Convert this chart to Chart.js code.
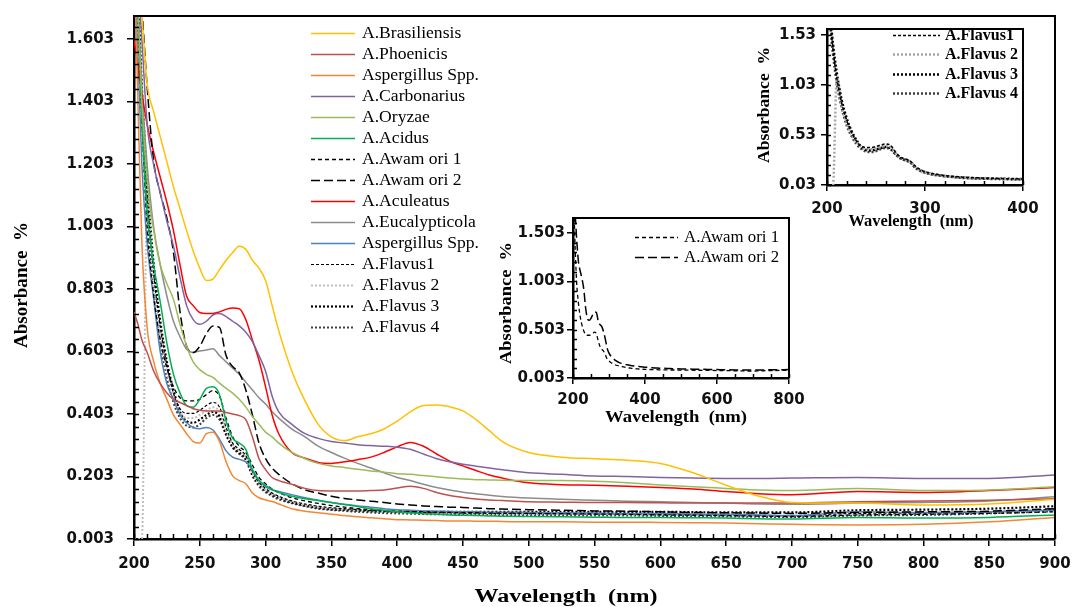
<!DOCTYPE html>
<html>
<head>
<meta charset="utf-8">
<script src="https://cdn.jsdelivr.net/npm/chart.js@4.4.0/dist/chart.umd.min.js"></script>
<style>
  body { margin: 0; background: #fff; }
  #wrap { position: relative; width: 1072px; height: 607px; }
  canvas { position: absolute; }
</style>
</head>
<body>
<div id="wrap">
  <canvas id="main" width="1072" height="607" style="left:0;top:0"></canvas>
  <canvas id="awamori" width="330" height="227" style="left:480px;top:205px"></canvas>
  <canvas id="flavus" width="305" height="240" style="left:745px;top:0"></canvas>
</div>
<script>
// wavelengths (nm) shared by every series
var wavelength = [200,203,206,210,
  215,220,225,230,235,240,245,250,255,260,265,270,275,280,285,290,295,300,
  305,310,
  320,330,340,350,360,370,380,390,400,410,420,430,440,450,460,470,480,
  500,525,550,575,600,625,650,675,700,
  750,800,850,900];

var brasiliensis = [1.95,1.85,1.68,1.46,
  1.37,1.29,1.21,1.13,1.06,0.99,0.925,0.87,0.83,0.835,0.865,0.895,0.92,0.94,0.93,0.895,0.87,0.83,
  0.75,0.67,
  0.54,0.445,0.37,0.33,0.318,0.33,0.34,0.355,0.38,0.41,0.43,0.432,0.426,0.413,0.385,0.35,0.315,
  0.28,0.265,0.26,0.255,0.245,0.215,0.175,0.14,0.12,
  0.118,0.112,0.115,0.13];
var phoenicis = [0.73,0.69,0.64,0.6,
  0.54,0.5,0.47,0.45,0.44,0.43,0.42,0.415,0.413,0.413,0.413,0.408,0.403,0.398,0.385,0.33,0.26,0.225,
  0.2,0.19,
  0.178,0.165,0.158,0.157,0.157,0.157,0.158,0.16,0.166,0.172,0.165,0.152,0.142,0.136,0.131,0.128,0.126,
  0.122,0.121,0.12,0.12,0.119,0.118,0.118,0.118,0.118,
  0.122,0.125,0.127,0.132];
var aspergillusOrange = [1.9,1.4,0.95,0.68,
  0.57,0.5,0.45,0.4,0.37,0.34,0.315,0.31,0.34,0.345,0.315,0.25,0.205,0.19,0.18,0.15,0.135,0.128,
  0.123,0.115,
  0.1,0.092,0.087,0.082,0.078,0.074,0.071,0.068,0.065,0.064,0.063,0.062,0.061,0.061,0.06,0.06,0.059,
  0.058,0.058,0.057,0.057,0.056,0.055,0.054,0.052,0.05,
  0.048,0.05,0.058,0.072];
var carbonarius = [1.95,1.8,1.6,1.33,
  1.2,1.11,1.02,0.94,0.84,0.75,0.705,0.69,0.7,0.72,0.725,0.715,0.7,0.685,0.665,0.635,0.59,0.54,
  0.46,0.41,
  0.37,0.34,0.325,0.315,0.31,0.305,0.302,0.3,0.297,0.29,0.275,0.26,0.25,0.242,0.236,0.23,0.225,
  0.215,0.21,0.205,0.203,0.2,0.198,0.197,0.197,0.198,
  0.2,0.197,0.197,0.208];
var oryzae = [1.9,1.7,1.4,1.15,
  0.99,0.88,0.82,0.77,0.69,0.62,0.57,0.545,0.53,0.52,0.502,0.485,0.47,0.45,0.425,0.395,0.37,0.345,
  0.33,0.31,
  0.28,0.26,0.245,0.237,0.232,0.226,0.221,0.217,0.212,0.21,0.206,0.202,0.198,0.195,0.193,0.192,0.191,
  0.19,0.19,0.188,0.183,0.176,0.17,0.165,0.16,0.158,
  0.165,0.158,0.16,0.17];
var acidus = [1.95,1.7,1.35,1.05,
  0.88,0.76,0.63,0.53,0.47,0.43,0.425,0.45,0.485,0.49,0.465,0.38,0.325,0.31,0.29,0.225,0.19,0.175,
  0.162,0.152,
  0.14,0.132,0.126,0.12,0.113,0.107,0.1,0.095,0.09,0.087,0.084,0.082,0.08,0.079,0.078,0.077,0.076,
  0.075,0.074,0.073,0.072,0.072,0.071,0.07,0.068,0.067,
  0.072,0.07,0.072,0.08];
var awamori1 = [1.95,1.7,1.35,1.0,
  0.78,0.64,0.55,0.49,0.455,0.445,0.445,0.45,0.465,0.478,0.46,0.39,0.33,0.3,0.28,0.24,0.2,0.18,
  0.163,0.152,
  0.135,0.125,0.117,0.11,0.105,0.1,0.097,0.094,0.092,0.091,0.09,0.089,0.088,0.087,0.087,0.086,0.086,
  0.085,0.084,0.083,0.082,0.08,0.079,0.078,0.076,0.075,
  0.08,0.082,0.085,0.09];
var awamori2 = [1.95,1.85,1.7,1.45,
  1.21,1.11,1.03,0.92,0.73,0.62,0.6,0.62,0.66,0.685,0.68,0.59,0.555,0.535,0.48,0.4,0.31,0.26,
  0.23,0.21,
  0.18,0.16,0.15,0.14,0.133,0.128,0.124,0.12,0.115,0.112,0.109,0.107,0.105,0.104,0.102,0.1,0.099,
  0.097,0.095,0.093,0.092,0.09,0.088,0.087,0.086,0.085,
  0.088,0.09,0.092,0.1];
var aculeatus = [1.6,1.52,1.43,1.33,
  1.24,1.16,1.08,0.99,0.88,0.78,0.75,0.728,0.725,0.725,0.73,0.738,0.742,0.74,0.705,0.64,0.575,0.49,
  0.4,0.34,
  0.28,0.262,0.248,0.245,0.25,0.257,0.265,0.28,0.298,0.312,0.3,0.275,0.252,0.237,0.222,0.208,0.198,
  0.183,0.177,0.175,0.172,0.168,0.163,0.155,0.148,0.145,
  0.155,0.152,0.158,0.168];
var eucalypticola = [1.9,1.7,1.45,1.2,
  1.0,0.88,0.78,0.7,0.65,0.61,0.6,0.605,0.608,0.612,0.59,0.57,0.55,0.53,0.505,0.48,0.455,0.435,
  0.41,0.39,
  0.355,0.33,0.3,0.28,0.262,0.245,0.23,0.215,0.2,0.19,0.178,0.168,0.16,0.153,0.148,0.143,0.139,
  0.134,0.13,0.127,0.124,0.122,0.12,0.118,0.115,0.114,
  0.118,0.12,0.125,0.138];
var aspergillusBlue = [1.85,1.55,1.2,0.95,
  0.77,0.6,0.5,0.45,0.4,0.375,0.36,0.356,0.36,0.352,0.322,0.285,0.265,0.258,0.25,0.225,0.19,0.17,
  0.16,0.155,
  0.145,0.135,0.127,0.12,0.114,0.109,0.105,0.1,0.097,0.095,0.093,0.092,0.091,0.09,0.09,0.089,0.089,
  0.088,0.087,0.086,0.085,0.085,0.083,0.082,0.08,0.078,
  0.09,0.088,0.09,0.095];
var flavus1 = [1.95,1.7,1.4,1.1,
  0.85,0.68,0.56,0.47,0.42,0.405,0.405,0.415,0.43,0.44,0.425,0.36,0.31,0.29,0.27,0.22,0.185,0.165,
  0.15,0.14,
  0.125,0.115,0.108,0.103,0.1,0.097,0.094,0.092,0.09,0.089,0.088,0.087,0.087,0.086,0.086,0.085,0.085,
  0.085,0.084,0.083,0.083,0.082,0.081,0.08,0.079,0.078,
  0.085,0.086,0.09,0.098];
var flavus2 = [0.003,0.003,0.003,1.1,
  0.82,0.65,0.54,0.46,0.41,0.39,0.39,0.4,0.415,0.425,0.41,0.35,0.305,0.285,0.265,0.215,0.18,0.16,
  0.147,0.137,
  0.122,0.112,0.105,0.1,0.097,0.094,0.091,0.089,0.088,0.087,0.086,0.085,0.085,0.084,0.084,0.083,0.083,
  0.083,0.082,0.082,0.081,0.08,0.079,0.078,0.077,0.076,
  0.08,0.084,0.088,0.096];
var flavus3 = [1.95,1.75,1.45,1.15,
  0.88,0.7,0.57,0.48,0.41,0.38,0.375,0.385,0.4,0.41,0.395,0.34,0.3,0.28,0.26,0.21,0.178,0.158,
  0.145,0.135,
  0.12,0.11,0.103,0.098,0.096,0.094,0.092,0.091,0.09,0.09,0.09,0.09,0.09,0.09,0.09,0.09,0.09,
  0.09,0.09,0.09,0.09,0.09,0.089,0.088,0.088,0.088,
  0.095,0.097,0.1,0.108];
var flavus4 = [1.9,1.65,1.35,1.05,
  0.8,0.63,0.52,0.44,0.39,0.365,0.36,0.37,0.39,0.4,0.385,0.335,0.295,0.275,0.255,0.205,0.172,0.153,
  0.14,0.13,
  0.117,0.108,0.1,0.096,0.093,0.09,0.088,0.086,0.085,0.084,0.083,0.082,0.082,0.081,0.081,0.08,0.08,
  0.08,0.079,0.078,0.078,0.077,0.076,0.075,0.074,0.073,
  0.078,0.08,0.085,0.092];

// tick labels
var mainXTicks = [200,250,300,350,400,450,500,550,600,650,700,750,800,850,900];
var mainYTicks = [0.003,0.203,0.403,0.603,0.803,1.003,1.203,1.403,1.603];
var awamoriXTicks = [200,400,600,800];
var awamoriYTicks = [0.003,0.503,1.003,1.503];
var flavusXTicks = [200,300,400];
var flavusYTicks = [0.03,0.53,1.03,1.53];

function pts(arr) {
  return wavelength.map(function (w, i) { return { x: w, y: arr[i] }; });
}

function line(label, arr, color, width, dash) {
  return {
    label: label,
    data: pts(arr),
    borderColor: color,
    borderWidth: width,
    borderDash: dash || [],
    pointRadius: 0,
    cubicInterpolationMode: 'monotone',
    fill: false
  };
}

var tickFont = { family: 'DejaVu Sans', weight: 'bold', size: 15 };

// text squeezed/stretched to the width it has in the picture
function drawText(ctx, t) {
  ctx.save();
  ctx.font = t.font;
  ctx.fillStyle = '#000';
  ctx.textAlign = t.align || 'center';
  ctx.textBaseline = 'middle';
  ctx.translate(t.x, t.y);
  if (t.rot) ctx.rotate(t.rot);
  var w = ctx.measureText(t.text).width;
  ctx.scale(t.width ? t.width / w : (t.sx || 1), 1);
  ctx.fillText(t.text, 0, 0);
  ctx.restore();
}

// frame, minor ticks, legend and axis titles
function deco(cfg) {
  return {
    id: 'deco',
    afterDraw: function (chart) {
      var ctx = chart.ctx, a = chart.chartArea;
      var xs = chart.scales.x, ys = chart.scales.y;
      ctx.save();
      ctx.strokeStyle = '#000';
      ctx.lineWidth = cfg.frameWidth;
      ctx.beginPath();
      ctx.moveTo(a.left, a.top);
      ctx.lineTo(a.right, a.top);
      ctx.lineTo(a.right, a.bottom);
      ctx.stroke();

      ctx.lineWidth = 1.5;
      ctx.beginPath();
      var n, i, p;
      n = Math.round((xs.max - cfg.minorX[0]) / cfg.minorX[1]);
      for (i = 0; i <= n; i++) {
        p = Math.round(xs.getPixelForValue(cfg.minorX[0] + i * cfg.minorX[1])) + 0.5;
        ctx.moveTo(p, a.bottom);
        ctx.lineTo(p, a.bottom - cfg.minorLen);
      }
      n = Math.floor((ys.max - cfg.minorY[0]) / cfg.minorY[1] + 1e-6);
      for (i = 0; i <= n; i++) {
        p = Math.round(ys.getPixelForValue(cfg.minorY[0] + i * cfg.minorY[1])) + 0.5;
        ctx.moveTo(a.left, p);
        ctx.lineTo(a.left + cfg.minorLen, p);
      }
      ctx.stroke();

      var lg = cfg.legend;
      lg.items.forEach(function (idx, k) {
        var ds = chart.data.datasets[idx];
        var y = Math.round(lg.y + k * lg.dy) + 0.5;
        ctx.strokeStyle = ds.borderColor;
        ctx.lineWidth = ds.borderWidth;
        ctx.setLineDash(ds.borderDash);
        ctx.beginPath();
        ctx.moveTo(lg.x, y);
        ctx.lineTo(lg.x + lg.len, y);
        ctx.stroke();
        ctx.setLineDash([]);
        drawText(ctx, { text: ds.label, x: lg.x + lg.len + lg.gap, y: y, font: lg.font, align: 'left', sx: lg.sx });
      });

      cfg.titles.forEach(function (t) { drawText(ctx, t); });
      ctx.restore();
    }
  };
}

function scales(o) {
  return {
    x: {
      type: 'linear', min: o.xMin, max: o.xMax,
      afterBuildTicks: function (s) { s.ticks = o.xTicks.map(function (v) { return { value: v }; }); },
      afterFit: function (s) { s.height = o.xHeight; s.paddingLeft = 0; s.paddingRight = 0; },
      ticks: { autoSkip: false, maxRotation: 0, padding: o.xPad, color: '#111', font: tickFont },
      grid: { drawOnChartArea: false, drawTicks: true, tickLength: o.tick, color: '#000', lineWidth: 1.5 },
      border: { display: true, color: '#000', width: o.axisWidth }
    },
    y: {
      type: 'linear', min: o.yMin, max: o.yMax,
      afterBuildTicks: function (s) { s.ticks = o.yTicks.map(function (v) { return { value: v }; }); },
      afterFit: function (s) { s.width = o.yWidth; s.paddingTop = 0; s.paddingBottom = 0; },
      ticks: {
        autoSkip: false, padding: o.yPad, color: '#111', font: tickFont,
        callback: function (v) { return v.toFixed(o.digits); }
      },
      grid: { drawOnChartArea: false, drawTicks: true, tickLength: o.tick, color: '#000', lineWidth: 1.5 },
      border: { display: true, color: '#000', width: o.axisWidth }
    }
  };
}

var serif = '"Liberation Serif", "Times New Roman", serif';

// main chart
new Chart(document.getElementById('main'), {
  type: 'line',
  data: {
    datasets: [
      line('A.Brasiliensis', brasiliensis, '#FFC000', 1.5),
      line('A.Phoenicis', phoenicis, '#C0504D', 1.5),
      line('Aspergillus Spp.', aspergillusOrange, '#F58634', 1.5),
      line('A.Carbonarius', carbonarius, '#8064A2', 1.5),
      line('A.Oryzae', oryzae, '#9BBB59', 1.5),
      line('A.Acidus', acidus, '#00B050', 1.5),
      line('A.Awam ori 1', awamori1, '#000', 1.3, [4, 3]),
      line('A.Awam ori 2', awamori2, '#000', 1.5, [9, 4]),
      line('A.Aculeatus', aculeatus, '#FF0000', 1.5),
      line('A.Eucalypticola', eucalypticola, '#8C8C8C', 1.5),
      line('Aspergillus Spp.', aspergillusBlue, '#4F81BD', 1.5),
      line('A.Flavus1', flavus1, '#000', 1.2, [3, 2]),
      line('A.Flavus 2', flavus2, '#BFBFBF', 2, [2, 2]),
      line('A.Flavus 3', flavus3, '#000', 2.2, [2, 2]),
      line('A.Flavus 4', flavus4, '#404040', 2, [2, 2])
    ]
  },
  options: {
    responsive: false, animation: false, devicePixelRatio: 1,
    layout: { padding: { left: 0, top: 16, right: 17, bottom: 0 } },
    plugins: { legend: { display: false }, tooltip: { enabled: false } },
    scales: scales({
      xMin: 200, xMax: 900, xTicks: mainXTicks, xHeight: 68, xPad: 9,
      yMin: 0.003, yMax: 1.677, yTicks: mainYTicks, yWidth: 134, yPad: 13,
      tick: 7, digits: 3, axisWidth: 2.5
    })
  },
  plugins: [deco({
    frameWidth: 2, minorX: [200, 10], minorY: [0.003, 0.04], minorLen: 5,
    legend: { items: [0,1,2,3,4,5,6,7,8,9,10,11,12,13,14], x: 311, y: 33, dy: 21, len: 44, gap: 7,
              font: '16px ' + serif, sx: 1.1 },
    titles: [
      { text: 'Absorbance  %', x: 22, y: 285, rot: -Math.PI / 2, font: 'bold 18px ' + serif, width: 126 },
      { text: 'Wavelength  (nm)', x: 566, y: 597, font: 'bold 18px ' + serif, width: 183 }
    ]
  })]
});

// inset: A.Awamori
new Chart(document.getElementById('awamori'), {
  type: 'line',
  data: {
    datasets: [
      line('A.Awam ori 1', awamori1, '#000', 1.3, [4, 3]),
      line('A.Awam ori 2', awamori2, '#000', 1.5, [9, 4])
    ]
  },
  options: {
    responsive: false, animation: false, devicePixelRatio: 1,
    layout: { padding: { left: 0, top: 13, right: 21, bottom: 0 } },
    plugins: { legend: { display: false }, tooltip: { enabled: false } },
    scales: scales({
      xMin: 200, xMax: 800, xTicks: awamoriXTicks, xHeight: 54, xPad: 7,
      yMin: 0.003, yMax: 1.658, yTicks: awamoriYTicks, yWidth: 93, yPad: 2,
      tick: 6, digits: 3, axisWidth: 2.5
    })
  },
  plugins: [deco({
    frameWidth: 2, minorX: [200, 50], minorY: [0.003, 0.1], minorLen: 4,
    legend: { items: [0, 1], x: 155, y: 32, dy: 20, len: 43, gap: 6, font: '16px ' + serif, sx: 1.05 },
    titles: [
      { text: 'Absorbance  %', x: 27, y: 98, rot: -Math.PI / 2, font: 'bold 17px ' + serif, width: 122 },
      { text: 'Wavelength  (nm)', x: 196, y: 213, font: 'bold 17px ' + serif, width: 142 }
    ]
  })]
});

// inset: A.Flavus
new Chart(document.getElementById('flavus'), {
  type: 'line',
  data: {
    datasets: [
      line('A.Flavus1', flavus1, '#000', 1.5, [3, 2]),
      line('A.Flavus 2', flavus2, '#A6A6A6', 2.5, [2, 2]),
      line('A.Flavus 3', flavus3, '#000', 2.5, [2, 2]),
      line('A.Flavus 4', flavus4, '#404040', 2.5, [2, 2])
    ]
  },
  options: {
    responsive: false, animation: false, devicePixelRatio: 1,
    layout: { padding: { left: 0, top: 29, right: 27, bottom: 0 } },
    plugins: { legend: { display: false }, tooltip: { enabled: false } },
    scales: scales({
      xMin: 200, xMax: 400, xTicks: flavusXTicks, xHeight: 55, xPad: 9,
      yMin: 0.03, yMax: 1.59, yTicks: flavusYTicks, yWidth: 82, yPad: 5,
      tick: 6, digits: 2, axisWidth: 2.5
    })
  },
  plugins: [deco({
    frameWidth: 2, minorX: [200, 20], minorY: [0.03, 0.1], minorLen: 4,
    legend: { items: [0, 1, 2, 3], x: 148, y: 35, dy: 19.3, len: 47, gap: 5, font: 'bold 16px ' + serif, sx: 1 },
    titles: [
      { text: 'Absorbance  %', x: 20, y: 105, rot: -Math.PI / 2, font: 'bold 16px ' + serif, width: 116 },
      { text: 'Wavelength  (nm)', x: 166, y: 222, font: 'bold 16px ' + serif, width: 125 }
    ]
  })]
});
</script>
</body>
</html>
